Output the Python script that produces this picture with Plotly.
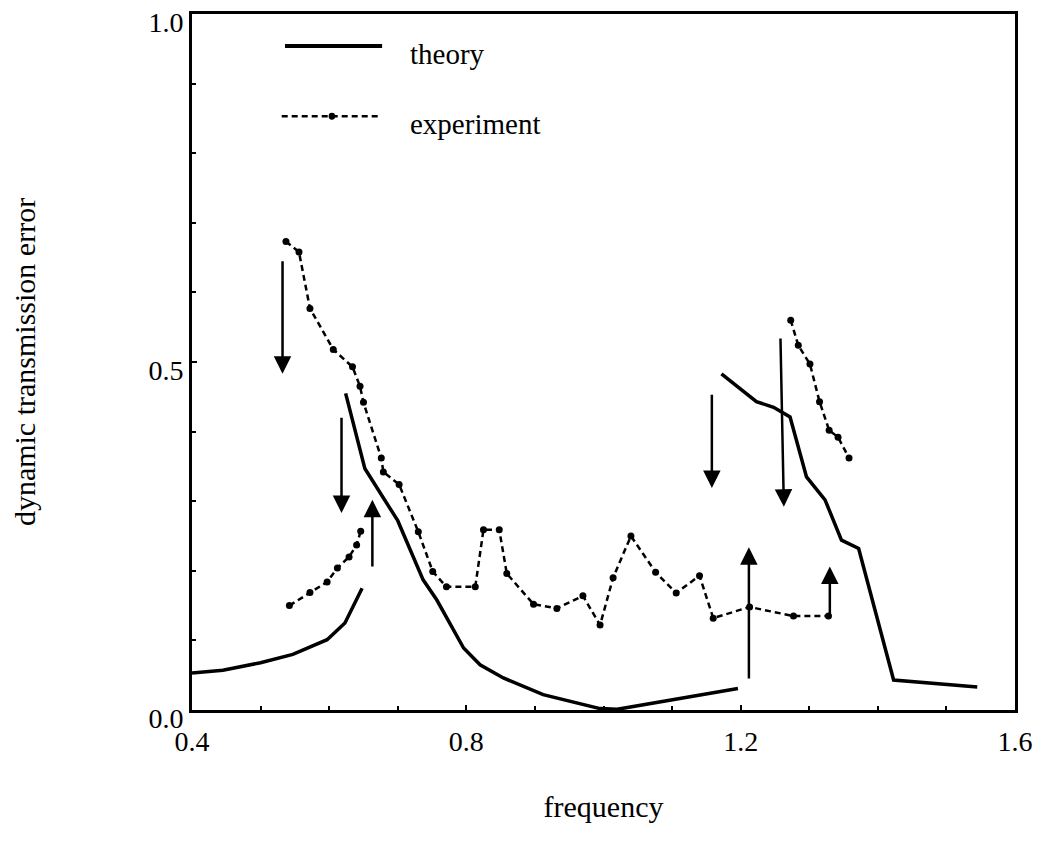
import plotly.graph_objects as go

# theory curve, three branches
theory_lo_x = [0.40, 0.445, 0.50, 0.547, 0.597, 0.623, 0.648]
theory_lo_y = [0.053, 0.057, 0.068, 0.080, 0.101, 0.125, 0.175]

theory_mid_x = [0.624, 0.652, 0.70, 0.737, 0.757, 0.771, 0.796, 0.82, 0.854, 0.912, 0.961, 0.995, 1.02, 1.097, 1.196]
theory_mid_y = [0.455, 0.347, 0.272, 0.187, 0.158, 0.134, 0.089, 0.065, 0.046, 0.022, 0.010, 0.002, 0.001, 0.014, 0.031]

theory_hi_x = [1.172, 1.223, 1.248, 1.272, 1.296, 1.323, 1.347, 1.372, 1.423, 1.545]
theory_hi_y = [0.483, 0.443, 0.435, 0.421, 0.335, 0.302, 0.244, 0.232, 0.043, 0.033]

# experiment, three branches
exp_down_x = [0.537, 0.556, 0.572, 0.606, 0.634, 0.645, 0.650, 0.676, 0.679, 0.702, 0.730, 0.751, 0.771,
              0.813, 0.825, 0.848, 0.859, 0.898, 0.932, 0.970, 0.995, 1.014, 1.040, 1.076, 1.106, 1.140,
              1.160, 1.213, 1.277, 1.328]
exp_down_y = [0.673, 0.658, 0.577, 0.518, 0.493, 0.465, 0.442, 0.362, 0.342, 0.324, 0.256, 0.199, 0.177,
              0.177, 0.259, 0.259, 0.196, 0.152, 0.146, 0.164, 0.122, 0.190, 0.250, 0.198, 0.168, 0.193,
              0.132, 0.148, 0.135, 0.135]

exp_up_x = [0.542, 0.572, 0.597, 0.612, 0.629, 0.640, 0.646]
exp_up_y = [0.150, 0.169, 0.184, 0.204, 0.220, 0.237, 0.257]

exp_right_x = [1.273, 1.284, 1.301, 1.315, 1.329, 1.342, 1.358]
exp_right_y = [0.560, 0.524, 0.497, 0.443, 0.402, 0.392, 0.362]

# jump arrows: tail (x_from, y_from) -> head (x_to, y_to)
arrow_x_from = [0.532, 0.618, 0.663, 1.158, 1.258, 1.212, 1.330]
arrow_x_to = [0.532, 0.618, 0.663, 1.158, 1.263, 1.212, 1.330]
arrow_y_from = [0.647, 0.422, 0.204, 0.455, 0.536, 0.043, 0.134]
arrow_y_to = [0.483, 0.283, 0.302, 0.319, 0.292, 0.234, 0.206]

FONT = "Liberation Serif"

fig = go.Figure()
for xs, ys in [(theory_lo_x, theory_lo_y), (theory_mid_x, theory_mid_y), (theory_hi_x, theory_hi_y)]:
    fig.add_trace(go.Scatter(x=xs, y=ys, mode="lines", line=dict(color="black", width=3.5),
                             showlegend=False))
for xs, ys in [(exp_down_x, exp_down_y), (exp_up_x, exp_up_y), (exp_right_x, exp_right_y)]:
    fig.add_trace(go.Scatter(x=xs, y=ys, mode="lines+markers",
                             line=dict(color="black", width=2.5, dash="6px,4px"),
                             marker=dict(color="black", size=7), showlegend=False))

for xf, xt, yf, yt in zip(arrow_x_from, arrow_x_to, arrow_y_from, arrow_y_to):
    fig.add_annotation(x=xt, y=yt, ax=xf, ay=yf, xref="x", yref="y", axref="x", ayref="y",
                       text="", showarrow=True, arrowhead=2, arrowsize=1.4, arrowwidth=2.5,
                       arrowcolor="black", standoff=0)

# hand-drawn legend in the upper left
fig.add_shape(type="line", xref="paper", yref="paper", x0=0.113, x1=0.231, y0=0.954, y1=0.954,
              line=dict(color="black", width=4))
fig.add_shape(type="line", xref="paper", yref="paper", x0=0.109, x1=0.228, y0=0.853, y1=0.853,
              line=dict(color="black", width=2.5, dash="6px,4px"))
fig.add_shape(type="circle", xref="paper", yref="paper", x0=0.166, x1=0.174, y0=0.848, y1=0.858,
              fillcolor="black", line=dict(color="black", width=0))
fig.add_annotation(x=0.262, y=0.943, xref="paper", yref="paper", text="theory", showarrow=False,
                   xanchor="left", yanchor="middle", font=dict(family=FONT, size=29, color="black"))
fig.add_annotation(x=0.262, y=0.842, xref="paper", yref="paper", text="experiment", showarrow=False,
                   xanchor="left", yanchor="middle", font=dict(family=FONT, size=29, color="black"))

axis_common = dict(showline=True, mirror=True, linecolor="black", linewidth=3, showgrid=False,
                   zeroline=False, ticks="inside", ticklen=5, tickwidth=2, tickcolor="black",
                   ticklabeloverflow="allow", automargin=False,
                   tickfont=dict(family=FONT, size=28, color="black"),
                   minor=dict(ticks="inside", ticklen=4, tickwidth=2, tickcolor="black", dtick=0.1))

fig.update_xaxes(range=[0.4, 1.6], tickvals=[0.4, 0.8, 1.2, 1.6], ticktext=["0.4", "0.8", "1.2", "1.6"],
                 ticklabelstandoff=4,
                 title=dict(text="frequency", font=dict(family=FONT, size=30, color="black"), standoff=41),
                 **axis_common)
fig.update_yaxes(range=[0, 1], tickvals=[0.0, 0.5, 1.0], ticktext=["0.0", "0.5", "1.0"],
                 ticklabelshift=8,
                 title=dict(text="dynamic transmission error", font=dict(family=FONT, size=30, color="black"),
                            standoff=106),
                 **axis_common)

# the page body adds an 8px margin, so the figure is sized to fit the 1046x841 window
fig.update_layout(width=1038, height=833, margin=dict(l=184, r=31, t=6, b=131),
                  plot_bgcolor="white", paper_bgcolor="white", showlegend=False)

fig.write_html("out.html")
